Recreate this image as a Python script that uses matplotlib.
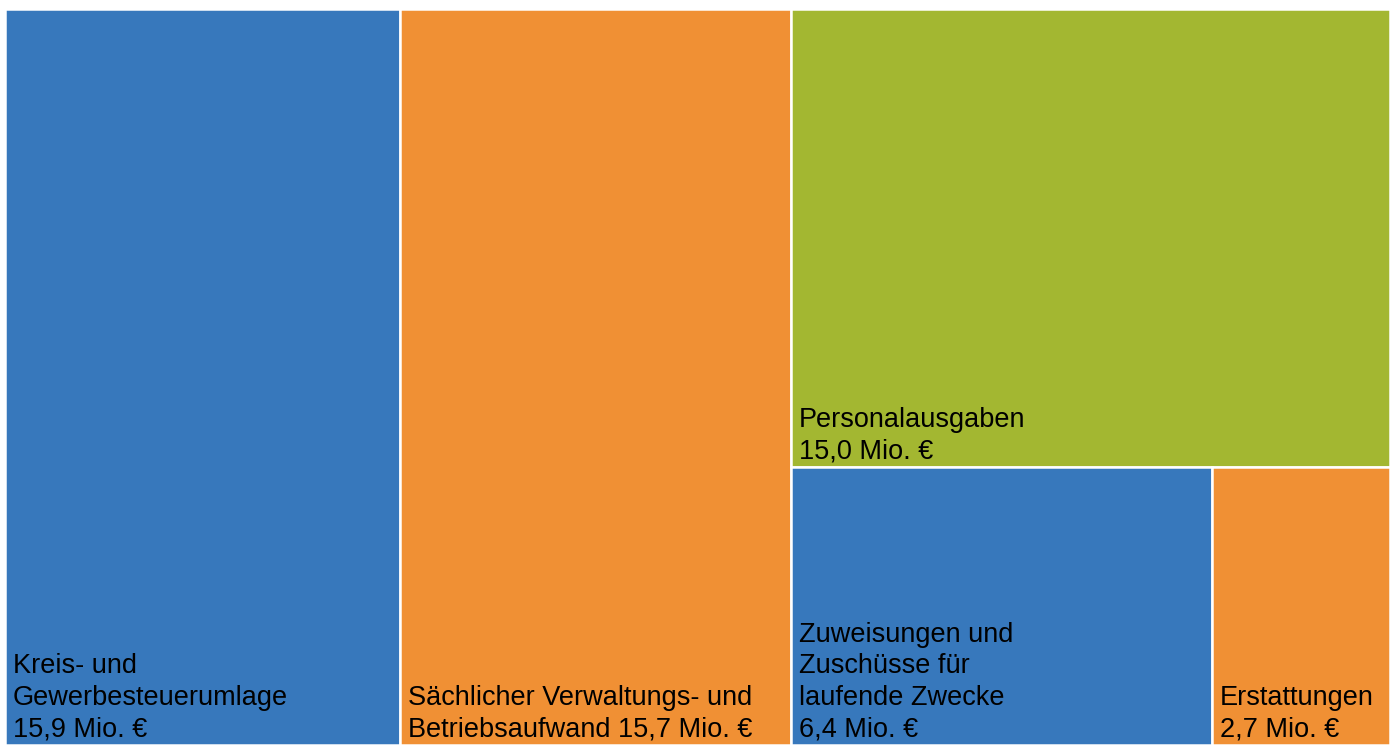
import matplotlib
matplotlib.use("Agg")
import matplotlib.pyplot as plt
from matplotlib.patches import Rectangle

# Data
labels = [
    "Kreis- und\nGewerbesteuerumlage",
    "Sächlicher Verwaltungs- und\nBetriebsaufwand",
    "Personalausgaben",
    "Zuweisungen und\nZuschüsse für\nlaufende Zwecke",
    "Erstattungen",
]
values = [15.9, 15.7, 15.0, 6.4, 2.7]
value_sep = ["\n", " ", "\n", "\n", "\n"]
colors = ["#3778BC", "#F09034", "#A3B731", "#3778BC", "#F09034"]

W, H = 1392, 745
fig = plt.figure(figsize=(W / 100, H / 100), dpi=100)
ax = fig.add_axes([0, 0, 1, 1])
ax.set_xlim(0, W)
ax.set_ylim(H, 0)
ax.axis("off")

# plotting area
x0, y0, x1, y1 = 5, 9, 1390, 745
total = sum(values)
aw, ah = x1 - x0, y1 - y0

rects = []
# first two values as full-height columns
cx = x0
for v in values[:2]:
    w = aw * v / total
    rects.append((cx, y0, w, ah))
    cx += w
# remaining column
rest = values[2:]
rest_total = sum(rest)
cw = x1 - cx
top_h = ah * rest[0] / rest_total
rects.append((cx, y0, cw, top_h))
bottom_total = sum(rest[1:])
bx = cx
for v in rest[1:]:
    w = cw * v / bottom_total
    rects.append((bx, y0 + top_h, w, ah - top_h))
    bx += w

for (x, y, w, h), lab, v, sep, c in zip(rects, labels, values, value_sep, colors):
    ax.add_patch(Rectangle((x, y), w, h, facecolor=c, edgecolor="white", linewidth=1.8))
    txt = f"{lab}{sep}{v:.1f}".replace(".", ",") + " Mio. €"
    ax.text(x + 8, y + h - 3, txt, ha="left", va="bottom", fontsize=19.5,
            family="Liberation Sans", color="black", linespacing=1.27)

fig.savefig("out.png", dpi=100)
